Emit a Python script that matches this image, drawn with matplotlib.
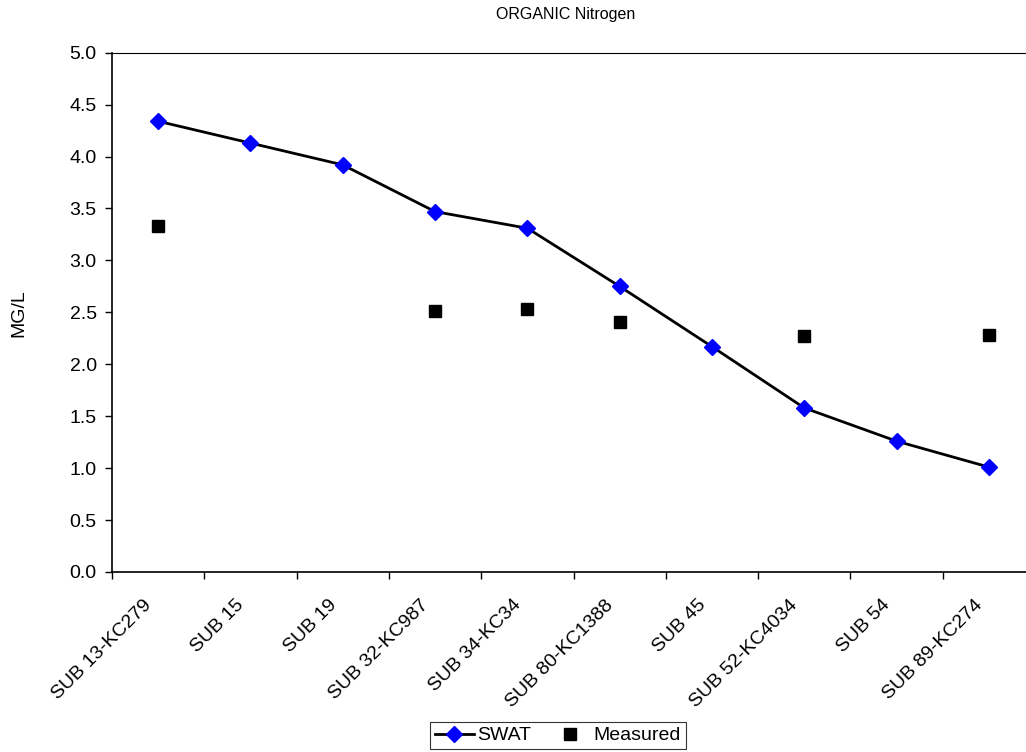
import numpy as np
import matplotlib.pyplot as plt
import matplotlib.transforms as mtransforms
from matplotlib.ticker import FixedLocator

plt.rcParams['font.family'] = ['Liberation Sans', 'DejaVu Sans']

# ─── DATOS ────────────────────────────────────────────────────────────────
categorias = ["SUB 13-KC279", "SUB 15", "SUB 19", "SUB 32-KC987", "SUB 34-KC34",
              "SUB 80-KC1388", "SUB 45", "SUB 52-KC4034", "SUB 54", "SUB 89-KC274"]
swat = [4.34, 4.13, 3.92, 3.47, 3.31, 2.75, 2.17, 1.58, 1.26, 1.01]
medido = [3.33, np.nan, np.nan, 2.51, 2.53, 2.41, np.nan, 2.27, np.nan, 2.28]

# ─── GRÁFICA ──────────────────────────────────────────────────────────────
W, H = 1026, 752
FS = 14
fig = plt.figure(figsize=(W / 100, H / 100), dpi=100)
# el área de trazado se sale un poco por la derecha (como en el original)
x0, x1, y0, y1 = 112, 1035, 52.7, 572
ax = fig.add_axes([x0 / W, 1 - y1 / H, (x1 - x0) / W, (y1 - y0) / H])

xs = np.arange(len(categorias))
ax.plot(xs, swat, color="black", lw=2, marker="D", markersize=8,
        markerfacecolor="#0000ff", markeredgecolor="#0000ff", label="SWAT", zorder=3)
ax.plot(xs, medido, ls="none", marker="s", markersize=8,
        color="black", label="Measured", zorder=3)

ax.set_xlim(-0.5, len(categorias) - 0.5)
ax.set_ylim(0, 5.0)
ax.set_yticks(np.arange(0, 5.01, 0.5))
ax.set_yticklabels([f"{v:.1f}" for v in np.arange(0, 5.01, 0.5)], fontsize=FS)

ax.set_xticks(xs)
ax.set_xticklabels(categorias, rotation=45, ha="right", rotation_mode="anchor", fontsize=FS)
ax.tick_params(axis="x", which="major", length=0, pad=9)
ax.xaxis.set_minor_locator(FixedLocator(np.arange(-0.5, len(categorias), 1.0)))
ax.tick_params(axis="x", which="minor", length=5, width=1, direction="out")
ax.tick_params(axis="y", length=5, width=1, direction="out", pad=6)

# desplazar las etiquetas del eje x (a la izquierda y hacia abajo, estilo Excel)
desplaz = mtransforms.ScaledTranslation(-0.15, -0.12, fig.dpi_scale_trans)
for lbl in ax.get_xticklabels():
    lbl.set_transform(lbl.get_transform() + desplaz)

ax.spines["right"].set_visible(False)
ax.spines["top"].set_linewidth(0.8)
ax.spines["left"].set_linewidth(1.2)
ax.spines["bottom"].set_linewidth(1.2)

fig.text(19 / W, 1 - 313 / H, "MG/L", rotation=90, ha="center", va="center", fontsize=FS)
fig.text(566 / W, 1 - 14 / H, "ORGANIC Nitrogen", ha="center", va="center", fontsize=11.5)

leg = fig.legend(loc="center", bbox_to_anchor=(558 / W, 1 - 735.5 / H), ncol=2,
                 frameon=True, fancybox=False, fontsize=FS, handlelength=2.0,
                 borderpad=0.25, columnspacing=1.0, handletextpad=0.2)
leg.get_frame().set_edgecolor("black")
leg.get_frame().set_linewidth(0.8)

fig.savefig("out.png", dpi=100)
